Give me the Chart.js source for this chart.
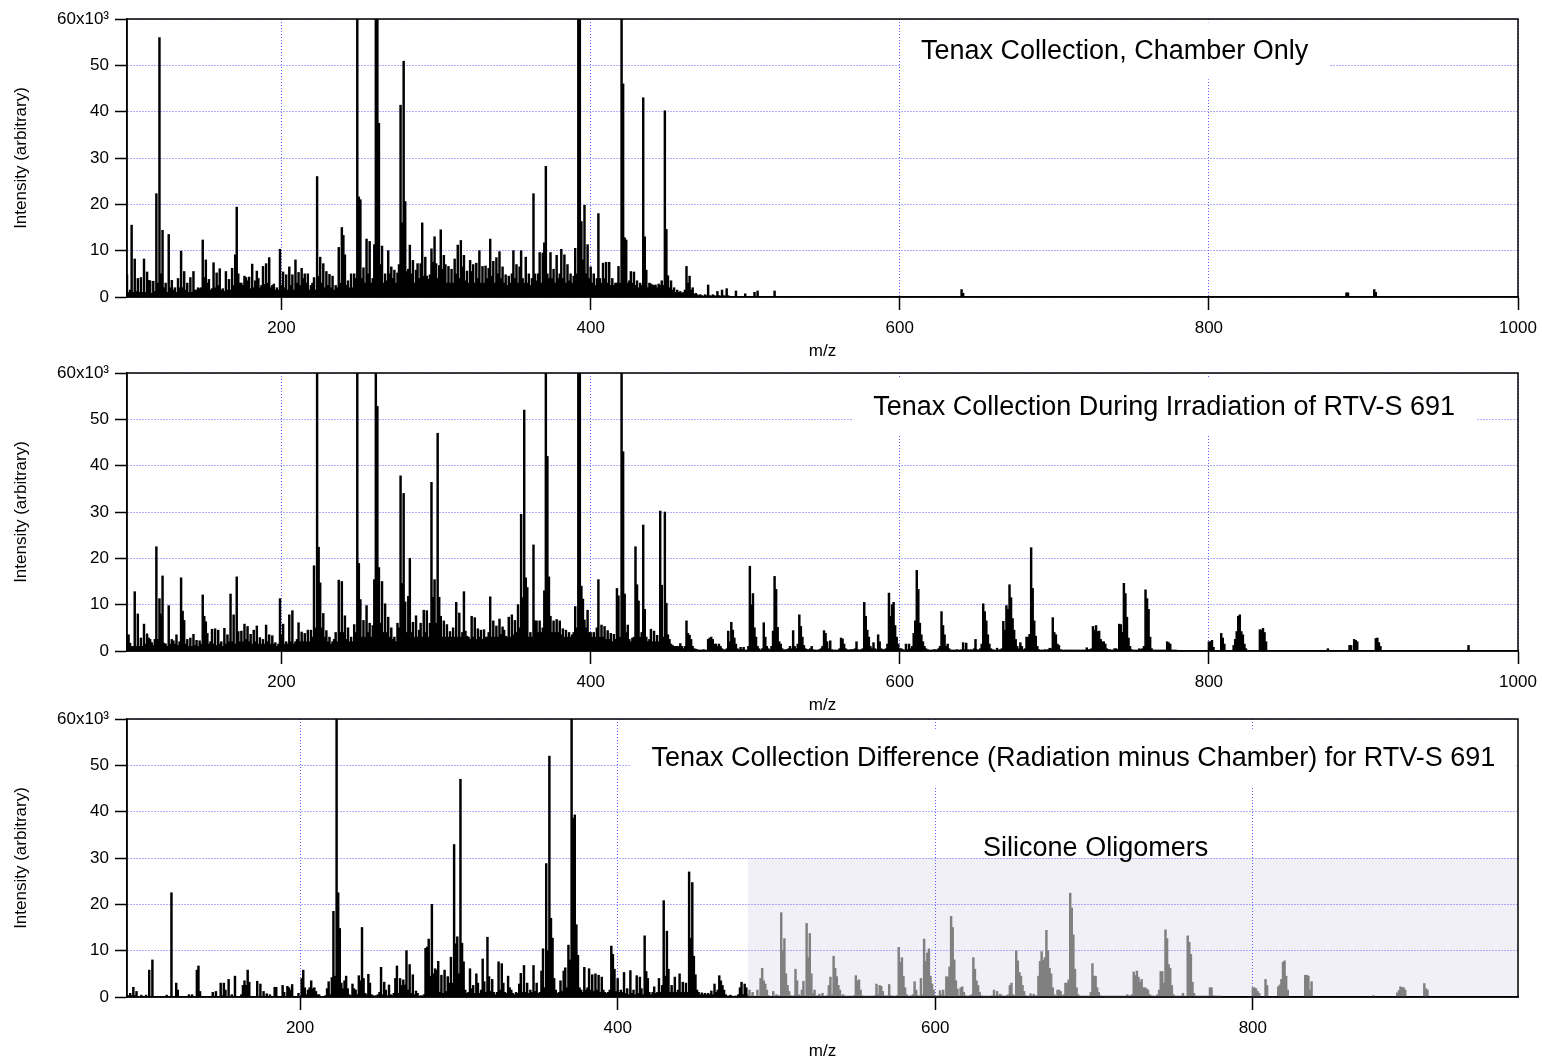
<!DOCTYPE html>
<html lang="en">
<head>
<meta charset="UTF-8">
<title>Tenax Collection Spectra</title>
<script src="https://cdn.jsdelivr.net/npm/chart.js"></script>
<style>
  body { margin: 0; background: #fff; }
  #page { position: relative; width: 1542px; height: 1062px; }
  .panel { position: absolute; left: 0; width: 1542px; height: 362px; }
</style>
</head>
<body>
<div id="page">
  <canvas id="chamber" class="panel" width="1542" height="362" style="top:0px"></canvas>
  <canvas id="irrad" class="panel" width="1542" height="362" style="top:354px"></canvas>
  <canvas id="diff" class="panel" width="1542" height="362" style="top:700px"></canvas>
</div>
<script>
// intensities in thousands, one value per integer m/z starting at *Start
const chamberStart = 100;
const chamberIntensity = [
  4.8, 1, 1.5, 15.5, 1, 8.2, 1.2, 4, 1, 4.2,          // 100
  1, 8.2, 1, 5.4, 3.6, 3.5, 0.8, 3.4, 1.2, 22.3,      // 110
  3, 56, 5, 14.4, 2, 3, 1, 13.5, 2, 3.6,              // 120
  1.5, 2, 1, 4, 2, 9.9, 2, 5.5, 1.5, 3,               // 130
  1, 4.2, 1, 5.5, 1.5, 1.5, 2, 1.8, 2, 12.3,          // 140
  4.2, 8, 3, 3.8, 1.5, 1.8, 7.4, 2, 5.2, 2.5,         // 150
  6.1, 1.5, 1.8, 1.2, 5.5, 1.5, 3.8, 1.5, 6.2, 2.5,   // 160
  9.1, 19.4, 5, 3, 3, 2.5, 4.5, 4.2, 3.5, 4.3,        // 170
  1.8, 7.1, 2, 3.5, 5.6, 4, 2, 2.5, 6.6, 2.7,         // 180
  7.2, 3, 8.5, 2, 2.5, 2.8, 1.5, 2, 1.5, 10.3,        // 190
  2.5, 5.4, 2, 4.8, 1.5, 6.5, 2.5, 4.8, 1.5, 8,       // 200
  3, 5.3, 2.5, 6.2, 4, 5, 3, 5, 1.5, 2.5,             // 210
  3, 4.2, 1.5, 26, 4.5, 8.6, 3, 7.2, 2, 5.5,          // 220
  2.5, 4.9, 2, 4.5, 1.5, 2.5, 2, 10.7, 3, 15,         // 230
  13.3, 9.1, 2.5, 3.5, 2, 5, 2, 5, 4, 62,             // 240
  21.6, 21, 4, 6.3, 3, 12.5, 5, 12, 3, 4,             // 250
  11.3, 62, 62, 37.5, 7, 11, 3, 5, 3.5, 10,           // 260
  5, 6.5, 4, 5.8, 3, 5.2, 7, 41.4, 16, 50.9,          // 270
  20.6, 5.5, 6, 11.2, 5, 7.9, 3, 5.8, 7.2, 4,         // 280
  7.2, 16, 4.5, 8.6, 4.5, 3.8, 4.8, 10.4, 7.5, 13,    // 290
  7.2, 4, 6.8, 14.5, 6, 9, 7, 3, 6.6, 3,              // 300
  6, 3, 8.2, 5, 11.2, 4, 12.2, 6.5, 9, 3.5,           // 310
  5.6, 3, 7.9, 5.5, 7, 3, 7.3, 4, 10, 3,              // 320
  6.6, 3, 6.7, 4, 6.2, 12.5, 4.5, 7.7, 3, 8.5,        // 330
  5, 9.8, 4, 6.5, 3, 4.8, 2.5, 4.5, 3, 5,             // 340
  10, 4, 7, 3, 6.5, 10, 4, 3, 8.6, 3,                 // 350
  5, 2.5, 4, 22.3, 5, 3.5, 5, 9.6, 3, 9.5,            // 360
  11.7, 28.2, 5, 4, 9.6, 4, 6, 3, 9, 4,               // 370
  5, 10.3, 4, 9.1, 3, 7, 3.5, 5, 3, 4.5,              // 380
  10.5, 5, 62, 62, 16.3, 8, 19.8, 5, 11.3, 4,         // 390
  6.5, 3, 5, 2.5, 4, 18, 4, 3, 7.3, 4,                // 400
  7.5, 3, 7.5, 2.5, 4, 2.5, 3, 3, 6.6, 3,             // 410
  62, 46, 12.8, 12.3, 3, 3.5, 5.5, 3, 5.4, 2.5,       // 420
  3.5, 2, 3, 2.5, 43, 13, 5.8, 2, 3, 2.8,             // 430
  2.6, 2.5, 2.6, 2, 2.8, 2.5, 3.5, 2.5, 40.2, 14.6,   // 440
  4.6, 2, 3.5, 1.5, 2, 1, 1.5, 1, 1.2, 0.8,           // 450
  1, 1.5, 6.6, 3, 4.5, 1.5, 2, 0.6, 0.8, 0.5,         // 460
  0.3, 0.5, 0.3, 0.2, 0.5, 0.3, 2.6, 0.3, 0.2, 0.5,   // 470
  0.3, 0.2, 1.2, 0.3, 0.2, 1.5, 0.3, 0.2, 1.8, 0.3    // 480
];
const chamberTailMz = [494, 500, 506, 508, 519, 640, 641, 889, 890, 907, 908];
const chamberTailIntensity = [1.3, 0.7, 1, 1.3, 1.3, 1.6, 0.8, 0.9, 0.9, 1.6, 1];

const irradStart = 100;
const irradIntensity = [
  3.5, 3.5, 1.7, 1, 1, 12.8, 1, 8, 1, 2.8,            // 100
  1, 5.8, 1.5, 3.7, 2.8, 2.5, 1.8, 1.2, 2.5, 22.5,    // 110
  2.5, 11.3, 8, 16.2, 1.7, 1.5, 1, 9.8, 1.5, 2.5,     // 120
  2.2, 1.5, 3.5, 1.2, 2, 15.8, 8.6, 6.6, 1.5, 2.5,    // 130
  1, 2.8, 1, 3.6, 1.2, 2.3, 1, 2.2, 1.5, 12.1,        // 140
  7.5, 6.3, 3.8, 1.5, 2, 4.7, 1.5, 4.8, 1.2, 4.5,     // 150
  1.5, 2, 1, 4.9, 1.5, 3.5, 2, 12.3, 2, 7.8,          // 160
  1.5, 16, 4.2, 2, 4.3, 2, 5.8, 2.5, 5.3, 2,          // 170
  3.6, 1.5, 4.5, 2, 5.4, 1.5, 2.9, 1.5, 2.5, 1.5,     // 180
  5.6, 2, 3.5, 1.5, 3.3, 1.5, 1.8, 1, 1.5, 11.3,      // 190
  3.5, 5.8, 1.5, 2, 1.5, 7.8, 2, 8.7, 1.5, 2,         // 200
  2.5, 6.1, 2, 4.1, 2, 3.8, 2, 4.5, 2, 4.5,           // 210
  3, 18.4, 5, 62, 22.4, 14.7, 5, 8.1, 3, 4.4,         // 220
  2, 3, 1.5, 2, 2.5, 4, 2, 15.3, 4, 15,               // 230
  4, 7.6, 2.5, 5, 2, 3, 2, 5.7, 4, 62,                // 240
  18.9, 11.1, 3, 6.6, 3, 9.8, 4, 6, 3, 5.5,           // 250
  15.4, 62, 52.8, 18, 6, 15, 4, 10.2, 4, 7.3,         // 260
  3, 5, 2.5, 3, 2, 6, 5, 37.8, 14.6, 34,              // 270
  10.6, 4, 11.8, 20, 4, 6.2, 3, 7.6, 3, 4.5,          // 280
  6, 3, 8.8, 4, 8.7, 3, 6, 36.4, 11.6, 15.4,          // 290
  6, 47, 11.6, 7.5, 3, 6.5, 3, 5.7, 3, 4.2,           // 300
  3, 5, 3, 10.5, 3, 8.2, 3, 4, 12.8, 4.3,             // 310
  3.2, 3, 2.5, 7.5, 3, 7.2, 2.5, 4.8, 3, 4.5,         // 320
  2.5, 4.6, 3, 3, 4, 11.7, 3, 6.5, 3, 5.4,            // 330
  3, 6.9, 3.6, 5.2, 4.5, 3.2, 3, 7.3, 3, 7.8,         // 340
  3.5, 6.6, 4, 10, 5, 29.5, 11.5, 52, 15.8, 13.7,     // 350
  3, 4, 3, 22.9, 6.5, 6.5, 4, 6.5, 4, 5,              // 360
  13, 62, 42, 16, 7.5, 4, 6.5, 4, 6.8, 4,             // 370
  6.5, 3.5, 4.8, 3, 4.5, 3, 4, 3, 3.5, 4,             // 380
  9.6, 5, 62, 62, 14, 11.2, 6.7, 5, 8.8, 4,           // 390
  4, 3, 4, 3, 5, 15.4, 3, 5.6, 3, 5.3,                // 400
  2.5, 4.4, 2.5, 3.8, 2, 3.6, 2.5, 13.5, 11.9, 3,     // 410
  62, 43, 12.3, 4, 5.6, 2.5, 2, 2.8, 3, 22.5,         // 420
  14.3, 10.8, 3, 4, 27.2, 9, 3, 2, 2.5, 4.7,          // 430
  2, 4.3, 2, 3.4, 2, 30.2, 14.2, 3, 30, 10.3,         // 440
  3.5, 2.5, 1.5, 1.2, 1, 1, 1, 1, 1.6, 1,             // 450
  0.5, 1, 6.5, 3.8, 3.4, 2.5, 1, 0.5, 0.4, 0.3,       // 460
  0.2, 0.2, 0.2, 0.3, 0.2, 0.2, 2.5, 2.8, 3, 2.5,     // 470
  1.5, 1.5, 1, 1.5, 1, 0.5, 0.3, 0.2, 0.5, 4.3,       // 480
  2, 6.2, 4.5, 2.8, 1.5, 0.5, 0.3, 0.8, 0.3, 0.8,     // 490
  0.2, 0.2, 1, 18.3, 10, 12.4, 5, 3, 1, 0.5,          // 500
  0.2, 0.5, 6.1, 3, 1, 0.5, 0.3, 1, 4.3, 16.1,        // 510
  13.3, 5.1, 2, 1.5, 0.5, 0.2, 0.3, 0.3, 0.5, 1,      // 520
  0.5, 4.4, 1, 0.5, 1.5, 7.8, 5.3, 3, 1.2, 0.5,       // 530
  0.3, 0.3, 0.5, 1, 0.3, 0.2, 0.2, 0.2, 0.3, 0.5,     // 540
  1, 4.4, 3.8, 2, 0.5, 2.2, 0.3, 0.2, 0.2, 0.2,       // 550
  0.2, 0.5, 2.8, 2.6, 1.5, 0.5, 0.3, 0.2, 0.3, 0.3,   // 560
  0.3, 0.5, 2, 0.3, 0.2, 0.3, 0.5, 10.5, 7.5, 4.5,    // 570
  3, 1, 0.5, 1.8, 0.5, 0.3, 3.5, 2, 0.5, 0.3,         // 580
  0.3, 0.5, 1.5, 12.5, 7.5, 10, 10.5, 5.5, 3, 1.5,    // 590
  0.5, 0.5, 0.3, 0.2, 1.5, 0.3, 1.5, 0.5, 1, 3.8,     // 600
  6.5, 17.4, 13.3, 6, 3.5, 2, 1, 0.5, 0.3, 0.2,       // 610
  0.2, 0.2, 0.3, 0.3, 0.2, 0.5, 1, 8.5, 5.5, 3.5,     // 620
  1, 1.5, 0.5, 0.2, 0.2, 0.2, 0.2, 0.3, 0.2, 0.2,     // 630
  0.3, 1.8, 0.3, 1.7, 0.3, 0.2, 0.3, 0.2, 0.5, 2.5,   // 640
  0.3, 0.2, 0.5, 1.5, 10.2, 8.5, 6.5, 3.5, 1.5, 0.5,  // 650
  0.3, 0.2, 0.2, 0.6, 0.2, 0.3, 0.5, 6.4, 4.5, 9.8,   // 660
  9, 14.3, 11.5, 7, 4.5, 2.5, 1, 0.5, 1.8, 1,         // 670
  0.3, 0.5, 3, 3, 3.6, 22.3, 13.5, 6.5, 3.2, 1,       // 680
  0.3, 0.2, 0.2, 0.2, 0.3, 0.2, 0.3, 0.6, 0.5, 7.2,   // 690
  4, 3.5, 1.5, 1.2, 0.3, 0.2, 0.2, 0.2, 0.2, 0.2,     // 700
  0.2, 0.2, 0.2, 0.2, 0.2, 0.2, 0.2, 0.2, 0.2, 0.2,   // 710
  0.2, 0.7, 0.3, 0.3, 0.5, 5.3, 4.5, 5.5, 4.2, 4.3,   // 720
  2.5, 2, 2, 1.5, 0.5, 0.3, 0.3, 0.2, 0.2, 0.5,       // 730
  0.5, 0.3, 5.8, 5.7, 4, 14.6, 12.4, 7.3, 2.8, 1,     // 740
  0.3, 0.2, 0.2, 0.2, 0.2, 0.5, 0.3, 0.5, 1, 13.2,    // 750
  11.3, 9, 3, 0.5, 0.2, 0.2, 0.2, 0.2, 0.2, 0.2,      // 760
  0.2, 0.2, 0.2, 2, 1.8, 1.5, 0.2, 0.2, 0.2, 0.2      // 770
];
const irradTailMz = [800, 801, 802, 803, 808, 809, 810, 816, 817, 818, 819, 820, 821, 822, 823, 824,
  833, 834, 835, 836, 837, 877, 891, 892, 894, 895, 896, 908, 909, 910, 911, 968];
const irradTailIntensity = [2, 2, 2.3, 0.8, 3.8, 2.8, 1.5, 1.2, 2.5, 4.2, 7.5, 7.8, 4.2, 3.5, 1.5, 0.5,
  4.6, 4.5, 4.9, 4, 2, 0.5, 1.2, 1.2, 2.5, 2.3, 2, 2.7, 2.8, 1.8, 1, 1.2];

const diffStart = 91;
const diffIntensity = [
  0, 0.3, 0.8, 0.3, 2.1, 0.3, 1.2, 0, 0, 0.4,         // 91
  0, 0, 0.4, 0, 5.8, 0, 8, 0, 0, 0,                   // 101
  0, 0, 0, 0, 0, 0.4, 0, 0, 22.5, 0,                  // 111
  0, 3, 1.5, 0, 0, 0, 0, 0, 0, 0.5,                   // 121
  0, 0.5, 0, 0, 5.8, 6.7, 1.2, 0, 0, 0,               // 131
  0, 0, 0, 0, 1, 0, 1.2, 0, 0, 3,                     // 141
  0.3, 3, 1.5, 0, 3.8, 0, 0.5, 0, 4.5, 0,             // 151
  0, 0, 0.5, 2.5, 3.5, 2.5, 5.8, 3.2, 0, 0,           // 161
  0, 0, 3.4, 0, 2.8, 0, 1.2, 0, 0.7, 0,               // 171
  0.5, 0, 0, 2.1, 2.1, 0, 0, 0, 2.5, 1,               // 181
  0, 2.3, 2, 1.5, 2.7, 0, 0, 0, 0.8, 0,               // 191
  4, 5.8, 2, 0.5, 1.5, 2, 3.5, 1.8, 2, 1.2,           // 201
  0.5, 0.5, 0, 0, 0, 0.3, 1.8, 3.3, 0.5, 4.2,         // 211
  18.5, 4.5, 62, 22.5, 14.8, 3, 1.8, 3.5, 4.5, 1.8,   // 221
  0.5, 0.3, 2.8, 1.8, 1.5, 0.5, 4.6, 3.5, 15, 4,      // 231
  0.8, 0.5, 4.9, 3, 0.5, 0.3, 0.2, 0.3, 0.5, 1,       // 241
  6.4, 0.5, 3.2, 1.5, 0.3, 2.6, 0.5, 0.3, 0.8, 4,     // 251
  6.7, 0.8, 4, 2.5, 3.7, 2.6, 10, 1.5, 7, 0.8,        // 261
  4.8, 0.5, 1.3, 0.8, 0.2, 0.3, 0.2, 0.5, 10.5, 10.8, // 271
  12.5, 4.5, 20, 5, 6.1, 5.8, 7.7, 1, 4.7, 0.8,       // 281
  5.8, 1.2, 4.4, 3, 8.6, 3, 32.9, 11.5, 13, 5,        // 291
  47, 11.6, 7.6, 1.5, 0.8, 1, 6.1, 1.8, 2.5, 0.8,     // 301
  5, 3, 0.8, 1.5, 8.2, 3.3, 1, 12.9, 4.4, 1.2,        // 311
  3.8, 1, 0.5, 1, 7.6, 1.5, 7.2, 3, 1, 0.8,           // 321
  4.5, 2, 1.5, 0.8, 0.5, 1, 0.8, 2.8, 5.1, 1,         // 331
  6.8, 1, 3, 0.8, 1.5, 1, 6.8, 1.2, 3, 0.8,           // 341
  1, 5.6, 10.4, 2, 28.8, 10, 52, 17, 12.7, 4,         // 351
  1.5, 0.8, 1, 3.5, 1.2, 5.6, 6.3, 2, 11.2, 8,        // 361
  62, 38.6, 39.3, 15.6, 9, 2, 1.5, 1, 6.4, 1.5,       // 371
  2, 6.1, 1.5, 4.8, 1.2, 5, 1.5, 4.7, 1, 4.3,         // 381
  1.5, 1, 0.8, 1, 1.5, 11, 9.2, 6, 1.2, 4,            // 391
  1, 1.5, 1, 5.3, 0.8, 1.8, 0.5, 5.7, 0.8, 1.5,       // 401
  0.5, 4.6, 0.8, 4.3, 1.8, 0.5, 13.2, 5.5, 4, 1,      // 411
  0.5, 1, 2.2, 0.8, 1, 4, 1, 2.5, 20.8, 4.5,          // 421
  14.2, 6, 1, 2.5, 1, 4.3, 1, 1.5, 5, 1,              // 431
  3.2, 1, 3, 1, 27, 12.7, 24.7, 8.8, 4.8, 1.5,        // 441
  1, 0.5, 0.9, 0.5, 0.8, 0.5, 0.8, 0.5, 1.3, 0.5,     // 451
  2.8, 1, 1.5, 4.6, 3.5, 2.5, 1.5, 0.5, 0.2, 0.2,     // 461
  0.4, 0.2, 0.1, 0.2, 0.2, 0.5, 2, 3.2, 0.5, 2.8,     // 471
  2, 0.5, 1.5, 0.3, 1, 0.2, 0, 1.5, 0.2, 4,           // 481
  6.2, 3.5, 2.8, 1.5, 0.3, 0.2, 0, 1.2, 0.2, 0.5,     // 491
  0.2, 0.3, 18.2, 10, 12.6, 5, 2.5, 1.2, 0.3, 0.2,    // 501
  0.3, 6, 3.5, 0.5, 0.3, 1.5, 3.4, 0.3, 15.9, 8.5,    // 511
  13.7, 5, 0.8, 1.5, 0.3, 0.2, 0.6, 0.2, 0.8, 0.2,    // 521
  0.2, 0.3, 2.5, 4.3, 0.5, 8.8, 6.2, 4.4, 2.5, 1.5,   // 531
  0.3, 0.5, 0.2, 0.2, 0.2, 0.2, 0.2, 0.2, 0.3, 4.6,   // 541
  3.5, 3.7, 1.5, 0.3, 0.2, 0.2, 0.2, 0.2, 0.2, 0.2,   // 551
  0.2, 0.3, 2.8, 0.5, 2.5, 2.3, 1.2, 0.3, 0.2, 0.3,   // 561
  2.7, 0.3, 0.2, 0.2, 0.2, 0.3, 10.7, 7.5, 8.5, 4.5,  // 571
  2, 0.5, 0.2, 0.2, 0.3, 0.5, 3.3, 1.5, 0.3, 0.2,     // 581
  4, 0.5, 12.5, 7.7, 9.5, 10.4, 4.5, 2.8, 1.5, 0.3,   // 591
  0.2, 0.3, 1.4, 0.5, 1.5, 0.3, 4.4, 4.3, 6.5, 17.4,  // 601
  15, 8, 3.5, 1.7, 0.3, 2, 2.2, 1, 0.3, 0.2,          // 611
  0.2, 0.3, 0.5, 8.5, 6, 3.5, 2.5, 1, 0.3, 0.2,       // 621
  0.2, 0.2, 0.2, 0.2, 0.2, 0.3, 1.5, 0.3, 1.2, 0.3,   // 631
  0.6, 0.3, 0.2, 0.2, 0.3, 0.5, 2.5, 3, 0.5, 0.3,     // 641
  10, 7.8, 5.3, 4.5, 2.5, 1.2, 0.3, 0.2, 0.2, 0.7,    // 651
  0.2, 0.6, 0.2, 0.3, 4.5, 7.7, 9.8, 7.9, 8.5, 14.4,  // 661
  10, 6.2, 5, 2, 0.5, 0.2, 1.5, 1.5, 1.2, 0.3,        // 671
  0.5, 3, 3, 3.7, 22.4, 19.2, 13.4, 6, 2, 0.5,        // 681
  0.2, 0.2, 0.2, 0.2, 0.2, 0.2, 0.2, 1, 7.2, 4.5,     // 691
  4.5, 2, 1, 0.3, 0.2, 0.2, 0.2, 0.2, 0.2, 0.2,       // 701
  0.2, 0.2, 0.2, 0.2, 0.2, 0.2, 0.2, 0.2, 0.2, 0.2,   // 711
  0.5, 0.2, 0.3, 0.5, 5.4, 4.6, 5.6, 4.3, 3.2, 3.8,   // 721
  2, 2, 1.8, 1.5, 0.5, 0.3, 0.2, 0.2, 0.2, 0.5,       // 731
  1.5, 5.5, 5.5, 3, 14.5, 12.6, 7, 6.2, 2.5, 0.5,     // 741
  0.2, 0.2, 0.2, 0.2, 0.2, 0.8, 0.2, 0.2, 13.2, 11.8, // 751
  9.2, 3.2, 0.8, 0.2, 0.2, 0.2, 0.2, 0.2, 0.2, 0.2,   // 761
  0.2, 0.2, 2, 2, 0.3, 0.2, 0.2, 0.2, 0.2, 0.2        // 771
];
const diffTailMz = [800, 801, 802, 803, 804, 808, 809, 816, 817, 818, 819, 820, 821, 822,
  833, 834, 835, 836, 837, 876, 891, 892, 893, 894, 895, 896, 908, 909, 910];
const diffTailIntensity = [2, 2, 1.8, 1.2, 0.8, 3.8, 2.5, 2.2, 2.6, 3.8, 7.5, 7.8, 4.5, 1.5,
  4.7, 4.7, 4.5, 1.5, 3.3, 0.3, 0.9, 1.4, 2.2, 2, 2, 1.5, 2.9, 1.8, 1.5];

const oligomerStart = 482;   // shaded "Silicone Oligomers" region starts here (m/z)
const oligomerTop = 30;      // shaded region height (x10^3)

const yTicks = [0, 10, 20, 30, 40, 50, 60];
const xTicksFull = [200, 400, 600, 800, 1000];
const xTicksDiff = [200, 400, 600, 800];

Chart.defaults.font.family = '"Liberation Sans", Arial, sans-serif';
Chart.defaults.color = '#000';

const gridBlue = 'rgb(96, 96, 255)';

function toPoints(start, values) {
  return values.map((v, i) => ({ x: start + i, y: v })).filter(p => p.y > 0);
}
function pairPoints(mz, values) {
  return mz.map((m, i) => ({ x: m, y: values[i] }));
}

// frame, title box and the shaded oligomer region
const panelDecor = {
  id: 'panelDecor',
  beforeDraw(chart, args, opts) {
    if (!opts.shadeFrom) return;
    const { ctx, chartArea, scales } = chart;
    const x0 = scales.x.getPixelForValue(opts.shadeFrom);
    const y0 = scales.y.getPixelForValue(opts.shadeTop);
    ctx.save();
    ctx.fillStyle = '#f1f0f6';
    ctx.fillRect(x0, y0, chartArea.right - x0, chartArea.bottom - y0);
    ctx.restore();
  },
  afterDraw(chart, args, opts) {
    const { ctx, chartArea, scales } = chart;
    ctx.save();
    ctx.font = '27px "Liberation Sans", Arial, sans-serif';
    ctx.textAlign = 'center';
    ctx.textBaseline = 'alphabetic';
    if (opts.title) {
      const cx = scales.x.getPixelForValue(opts.titleAt[0]);
      const by = scales.y.getPixelForValue(opts.titleAt[1]);
      const w = ctx.measureText(opts.title).width;
      ctx.fillStyle = '#fff';
      ctx.fillRect(cx - w / 2 - 21, by - 37, w + 42, 57);
      ctx.fillStyle = '#000';
      ctx.fillText(opts.title, cx, by);
    }
    if (opts.note) {
      ctx.fillStyle = '#000';
      ctx.fillText(opts.note, scales.x.getPixelForValue(opts.noteAt[0]), scales.y.getPixelForValue(opts.noteAt[1]));
    }
    ctx.strokeStyle = '#000';
    ctx.lineWidth = 1.5;
    ctx.strokeRect(chartArea.left, chartArea.top, chartArea.right - chartArea.left, chartArea.bottom - chartArea.top);
    ctx.restore();
  }
};

function makePanel(id, datasets, xMin, xMax, xTicks, decor) {
  return new Chart(document.getElementById(id), {
    type: 'bar',
    data: { datasets: datasets },
    options: {
      responsive: false,
      animation: false,
      layout: { padding: { top: 19, right: 24, left: 0, bottom: 0 } },
      datasets: { bar: { barThickness: 1.8, borderWidth: 0, grouped: false } },
      plugins: {
        legend: { display: false },
        tooltip: { enabled: false },
        panelDecor: decor
      },
      scales: {
        x: {
          type: 'linear',
          min: xMin,
          max: xMax,
          offset: false,
          afterBuildTicks: (scale) => { scale.ticks = xTicks.map(v => ({ value: v })); },
          afterFit: (scale) => {
            scale.height = 65;
            scale.paddingLeft = 0;
            scale.paddingRight = 0;
          },
          ticks: {
            font: { size: 17 }, padding: 8, maxRotation: 0, autoSkip: false,
            callback: (v) => String(v)
          },
          grid: {
            offset: false,
            color: gridBlue,
            lineWidth: 1,
            tickLength: 13,
            tickColor: '#000',
            tickWidth: 1.5,
            tickBorderDash: []
          },
          border: { color: '#000', width: 1.5, dash: [1, 2] },
          title: { display: true, text: 'm/z', font: { size: 17 }, padding: { top: 0, bottom: 0 } }
        },
        y: {
          min: 0,
          max: 60,
          afterBuildTicks: (scale) => { scale.ticks = yTicks.map(v => ({ value: v })); },
          afterFit: (scale) => { scale.width = 127; },
          ticks: {
            font: { size: 17 },
            padding: 6,
            callback: (v) => v === 60 ? '60x10\u00B3' : String(v)
          },
          grid: {
            color: gridBlue,
            lineWidth: 1,
            tickLength: 12,
            tickColor: '#000',
            tickWidth: 1.5,
            tickBorderDash: []
          },
          border: { color: '#000', width: 1.5, dash: [1, 2] },
          title: { display: true, text: 'Intensity (arbitrary)', font: { size: 17 }, padding: { top: 11, bottom: 0 } }
        }
      }
    },
    plugins: [panelDecor]
  });
}

const chamberPoints = toPoints(chamberStart, chamberIntensity).concat(pairPoints(chamberTailMz, chamberTailIntensity));
const irradPoints = toPoints(irradStart, irradIntensity).concat(pairPoints(irradTailMz, irradTailIntensity));
const diffPoints = toPoints(diffStart, diffIntensity).concat(pairPoints(diffTailMz, diffTailIntensity));

makePanel('chamber', [{ data: chamberPoints, backgroundColor: '#000' }], 100, 1000, xTicksFull,
  { title: 'Tenax Collection, Chamber Only', titleAt: [739, 51.3] });

makePanel('irrad', [{ data: irradPoints, backgroundColor: '#000' }], 100, 1000, xTicksFull,
  { title: 'Tenax Collection During Irradiation of RTV-S 691', titleAt: [771, 50.9] });

makePanel('diff', [
  { data: diffPoints.filter(p => p.x < oligomerStart), backgroundColor: '#000' },
  { data: diffPoints.filter(p => p.x >= oligomerStart), backgroundColor: '#808080' }
], 91, 967, xTicksDiff, {
  title: 'Tenax Collection Difference (Radiation minus Chamber) for RTV-S 691', titleAt: [687, 49.9],
  note: 'Silicone Oligomers', noteAt: [701, 30.5],
  shadeFrom: oligomerStart, shadeTop: oligomerTop
});
</script>
</body>
</html>
